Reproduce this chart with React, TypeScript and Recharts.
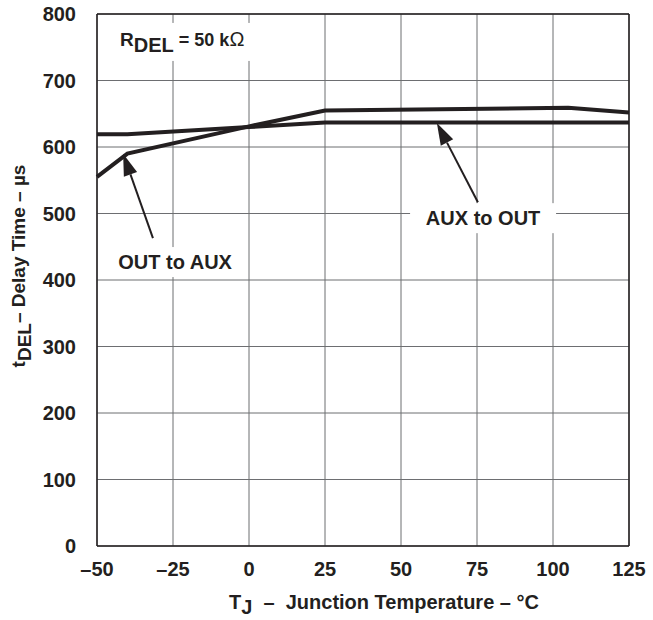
import { LineChart, Line, XAxis, YAxis, CartesianGrid, ReferenceLine, ReferenceDot, Label } from 'recharts';

const xTicks = [-50, -25, 0, 25, 50, 75, 100, 125];
const yTicks = [0, 100, 200, 300, 400, 500, 600, 700, 800];

// AUX to OUT
const auxToOut = [
  { t: -50, d: 619 },
  { t: -40, d: 619 },
  { t: 0, d: 630 },
  { t: 25, d: 637 },
  { t: 125, d: 637 },
];

// OUT to AUX
const outToAux = [
  { t: -50, d: 555 },
  { t: -40, d: 590 },
  { t: 0, d: 631 },
  { t: 25, d: 655 },
  { t: 105, d: 659 },
  { t: 125, d: 652 },
];

const FONT = '"Liberation Sans", Arial, sans-serif';
const INK = '#231f20';

const fmt = (v: number) => String(v).replace('-', '\u2013');

function Arrow(props: any) {
  const { x1, y1, x2, y2 } = props;
  // x1,y1 = tail, x2,y2 = tip
  const dx = x2 - x1;
  const dy = y2 - y1;
  const len = Math.sqrt(dx * dx + dy * dy) || 1;
  const ux = dx / len;
  const uy = dy / len;
  const hl = 22;
  const hw = 7;
  const bx = x2 - ux * hl;
  const by = y2 - uy * hl;
  const pts = `${x2},${y2} ${bx - uy * hw},${by + ux * hw} ${bx + uy * hw},${by - ux * hw}`;
  return (
    <g>
      <line x1={x1} y1={y1} x2={bx} y2={by} stroke={INK} strokeWidth={2} />
      <polygon points={pts} fill={INK} />
    </g>
  );
}

function boxText(text: string, w: number) {
  return (props: any) => {
    const { cx, cy } = props;
    return (
      <g>
        <rect x={cx - w / 2} y={cy - 15} width={w} height={30} fill="#fff" />
        <text x={cx} y={cy + 7} textAnchor="middle" fontFamily={FONT} fontWeight="bold" fontSize={20} fill={INK}>
          {text}
        </text>
      </g>
    );
  };
}

function RdelLabel(props: any) {
  const { cx, cy } = props;
  return (
    <g>
      <rect x={cx - 4} y={cy - 17} width={142} height={38} fill="#fff" />
      <text x={cx} y={cy + 6} fontFamily={FONT} fontWeight="bold" fontSize={19} fill={INK}>
        R
        <tspan dy={6} fontSize={20}>DEL</tspan>
        <tspan dy={-6} fontSize={18}> = 50 k</tspan>
        <tspan fontWeight="normal" fontSize={20}>Ω</tspan>
      </text>
    </g>
  );
}

function YTitle(props: any) {
  const { viewBox } = props;
  const cx = 25;
  const cy = viewBox.y + viewBox.height / 2 - 14;
  return (
    <text transform={`translate(${cx},${cy}) rotate(-90)`} textAnchor="middle" fontFamily={FONT} fontWeight="bold" fontSize={19} fill={INK}>
      t<tspan dy={6}>DEL</tspan>
      <tspan dy={-6}>{'\u2013 Delay Time \u2013 \u00b5s'}</tspan>
    </text>
  );
}

function XTitle(props: any) {
  const { viewBox } = props;
  const cx = viewBox.x + viewBox.width / 2 + 21;
  return (
    <text x={cx} y={609} textAnchor="middle" fontFamily={FONT} fontWeight="bold" fontSize={20} fill={INK}>
      T<tspan dy={5}>J</tspan>
      <tspan dy={-5} xmlSpace="preserve">{'  \u2013  Junction Temperature \u2013 \u00b0C'}</tspan>
    </text>
  );
}

export default function App() {
  return (
    <div style={{ position: 'absolute', left: 0, top: 0, background: '#fff' }}>
      <LineChart width={653} height={620} margin={{ top: 14, right: 24, bottom: 44, left: 37 }}>
        <CartesianGrid stroke="#6d6e71" strokeWidth={1} />
        <XAxis
          type="number"
          dataKey="t"
          domain={[-50, 125]}
          ticks={xTicks}
          tickFormatter={fmt}
          allowDuplicatedCategory={false}
          height={30}
          axisLine={{ stroke: INK, strokeWidth: 1.5 }}
          tickLine={false}
          tick={{ fontFamily: FONT, fontWeight: 'bold', fontSize: 20, fill: INK }}
          tickMargin={10}
        >
          <Label content={XTitle} />
        </XAxis>
        <YAxis
          type="number"
          domain={[0, 800]}
          ticks={yTicks}
          width={60}
          axisLine={{ stroke: INK, strokeWidth: 1.5 }}
          tickLine={false}
          tick={{ fontFamily: FONT, fontWeight: 'bold', fontSize: 20, fill: INK }}
          tickMargin={15}
        >
          <Label content={YTitle} />
        </YAxis>
        <ReferenceLine x={125} stroke={INK} strokeWidth={1.5} />
        <ReferenceLine y={800} stroke={INK} strokeWidth={1.5} />
        <Line data={auxToOut} dataKey="d" type="linear" stroke={INK} strokeWidth={4} dot={false} isAnimationActive={false} />
        <Line data={outToAux} dataKey="d" type="linear" stroke={INK} strokeWidth={4} dot={false} isAnimationActive={false} />
        <ReferenceDot x={-24.3} y={427} r={0} shape={boxText('OUT to AUX', 136)} />
        <ReferenceDot x={77} y={493} r={0} shape={boxText('AUX to OUT', 146)} />
        <ReferenceLine segment={[{ x: -31.6, y: 463 }, { x: -41.4, y: 590 }]} shape={Arrow} />
        <ReferenceLine segment={[{ x: 75.3, y: 517 }, { x: 61.8, y: 636 }]} shape={Arrow} />
        <ReferenceDot x={-42.4} y={761} r={0} shape={RdelLabel} />
      </LineChart>
    </div>
  );
}
